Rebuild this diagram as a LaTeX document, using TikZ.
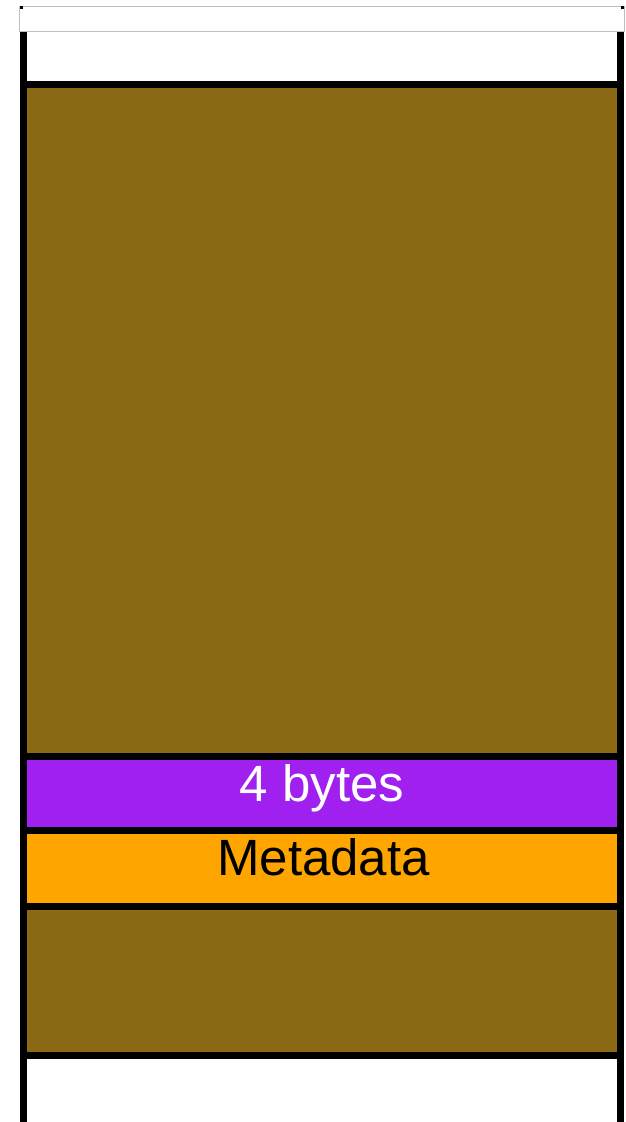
\documentclass[tikz,border=0pt]{standalone}
\usepackage{fontspec}
\setmainfont{Liberation Sans}
\begin{document}
\begin{tikzpicture}[x=1pt,y=-1pt,
  wall/.style={line width=7pt,black},
  label/.style={anchor=base,inner sep=0pt,font=\fontsize{51}{60}\selectfont}]
\useasboundingbox (0,0) rectangle (625,1122);
\definecolor{brownfill}{HTML}{8B6914}
\definecolor{purplefill}{HTML}{A020F0}
\definecolor{orangefill}{HTML}{FFA500}
% coloured bands
\fill[brownfill] (20,84) rectangle (624,757);
\fill[purplefill] (20,757) rectangle (624,831);
\fill[orangefill] (20,831) rectangle (624,907);
\fill[brownfill] (20,907) rectangle (624,1056);
% side walls
\coordinate (lt) at (23.5,30);
\coordinate (lb) at (23.5,1122);
\coordinate (rt) at (620.5,30);
\coordinate (rb) at (620.5,1122);
\draw[wall] (lt) -- (lb);
\draw[wall] (rt) -- (rb);
% top cap
\draw[gray!50,line width=1pt,fill=white] (19.5,6.5) rectangle (624,31);
\fill[black] (20,6) rectangle (23,9);
\fill[black] (621,6) rectangle (624,9);
% separators
\foreach \yy in {84.5,756.5,830.5,906.5,1055.5}
  \draw[wall] (20,\yy) -- (624,\yy);
% labels
\node[label,text=white] (bytes) at (322,801) {4 bytes};
\node[label,text=black] (meta) at (323.5,875) {Metadata};
\end{tikzpicture}
\end{document}
